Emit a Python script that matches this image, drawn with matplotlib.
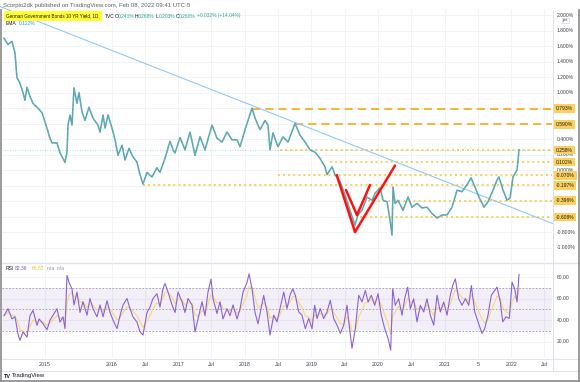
import matplotlib
matplotlib.use("Agg")
import matplotlib.pyplot as plt
import numpy as np
import pandas as pd
from matplotlib.lines import Line2D
from matplotlib.transforms import blended_transform_factory

plt.rcParams['font.family'] = ['Liberation Sans', 'DejaVu Sans']

# ---------------- data (decimal years, yield in %) ----------------
price_t = [2014.385, 2014.445, 2014.505, 2014.550, 2014.580, 2014.625, 2014.670, 2014.700, 2014.730,
           2014.775, 2014.821, 2014.881, 2014.956, 2015.001, 2015.076, 2015.106, 2015.181, 2015.226,
           2015.301, 2015.331, 2015.346, 2015.376, 2015.406, 2015.436, 2015.481, 2015.511, 2015.556,
           2015.601, 2015.661, 2015.721, 2015.796, 2015.827, 2015.872, 2015.902, 2015.947, 2016.007,
           2016.052, 2016.097, 2016.157, 2016.202, 2016.262, 2016.322, 2016.382, 2016.427, 2016.472,
           2016.532, 2016.607, 2016.682, 2016.727, 2016.802, 2016.878, 2016.923, 2016.953, 2017.028,
           2017.103, 2017.178, 2017.253, 2017.328, 2017.403, 2017.508, 2017.583, 2017.658, 2017.733,
           2017.808, 2017.884, 2017.929, 2018.004, 2018.049, 2018.109, 2018.154, 2018.229, 2018.304,
           2018.349, 2018.379, 2018.424, 2018.499, 2018.574, 2018.649, 2018.754, 2018.830, 2018.905,
           2018.980, 2019.055, 2019.130, 2019.205, 2019.235, 2019.310, 2019.355, 2019.430, 2019.505,
           2019.580, 2019.655, 2019.700, 2019.760, 2019.835, 2019.911, 2019.956, 2020.031, 2020.076,
           2020.136, 2020.181, 2020.211, 2020.226, 2020.256, 2020.301, 2020.376, 2020.451, 2020.511,
           2020.586, 2020.661, 2020.736, 2020.811, 2020.887, 2020.962, 2021.037, 2021.112, 2021.187,
           2021.262, 2021.337, 2021.397, 2021.457, 2021.517, 2021.592, 2021.652, 2021.727, 2021.787,
           2021.817, 2021.878, 2021.938, 2021.983, 2022.028, 2022.088, 2022.118]
price_v = [1.70, 1.62, 1.66, 1.51, 1.19, 1.12, 1.00, 0.90, 1.07,
           0.95, 0.86, 0.81, 0.74, 0.62, 0.41, 0.35, 0.35, 0.22,
           0.10, 0.23, 0.58, 0.71, 0.58, 1.06, 0.86, 1.00, 0.75,
           0.64, 0.81, 0.67, 0.58, 0.49, 0.71, 0.54, 0.71, 0.54,
           0.39, 0.19, 0.32, 0.13, 0.28, 0.17, 0.10, -0.06, -0.18,
           -0.03, -0.09, 0.03, -0.03, 0.15, 0.37, 0.26, 0.22, 0.42,
           0.26, 0.49, 0.19, 0.43, 0.26, 0.58, 0.41, 0.36, 0.49,
           0.39, 0.39, 0.30, 0.52, 0.64, 0.80, 0.67, 0.52, 0.64,
           0.58, 0.26, 0.48, 0.30, 0.43, 0.36, 0.60, 0.45, 0.36,
           0.26, 0.23, 0.15, 0.04, -0.06, 0.04, -0.06, -0.15, -0.32,
           -0.52, -0.71, -0.58, -0.52, -0.35, -0.39, -0.30, -0.23, -0.39,
           -0.41, -0.65, -0.84, -0.22, -0.43, -0.39, -0.52, -0.35, -0.48,
           -0.43, -0.49, -0.48, -0.56, -0.62, -0.58, -0.58, -0.48, -0.26,
           -0.28, -0.19, -0.10, -0.22, -0.35, -0.48, -0.41, -0.26, -0.13,
           -0.09, -0.26, -0.39, -0.36, -0.09, 0.00, 0.26]

rsi_t = [2014.385, 2014.445, 2014.505, 2014.550, 2014.595, 2014.625, 2014.670, 2014.730, 2014.775,
         2014.821, 2014.881, 2014.911, 2014.971, 2015.031, 2015.076, 2015.121, 2015.181, 2015.226,
         2015.271, 2015.301, 2015.331, 2015.361, 2015.406, 2015.436, 2015.481, 2015.526, 2015.571,
         2015.631, 2015.676, 2015.721, 2015.781, 2015.827, 2015.872, 2015.932, 2015.977, 2016.022,
         2016.082, 2016.127, 2016.172, 2016.232, 2016.277, 2016.322, 2016.382, 2016.427, 2016.472,
         2016.532, 2016.577, 2016.622, 2016.682, 2016.727, 2016.772, 2016.802, 2016.848, 2016.908,
         2016.953, 2016.998, 2017.058, 2017.103, 2017.148, 2017.208, 2017.253, 2017.298, 2017.358,
         2017.403, 2017.448, 2017.493, 2017.523, 2017.583, 2017.628, 2017.673, 2017.733, 2017.778,
         2017.824, 2017.884, 2017.929, 2017.974, 2018.034, 2018.064, 2018.109, 2018.154, 2018.199,
         2018.284, 2018.334, 2018.379, 2018.435, 2018.484, 2018.529, 2018.585, 2018.634, 2018.679,
         2018.720, 2018.759, 2018.810, 2018.859, 2018.909, 2018.960, 2019.010, 2019.050, 2019.085,
         2019.134, 2019.185, 2019.235, 2019.284, 2019.335, 2019.385, 2019.435, 2019.486, 2019.535,
         2019.570, 2019.610, 2019.660, 2019.711, 2019.760, 2019.810, 2019.851, 2019.900, 2019.951,
         2020.001, 2020.050, 2020.101, 2020.151, 2020.191, 2020.221, 2020.260, 2020.311, 2020.361,
         2020.401, 2020.446, 2020.486, 2020.536, 2020.586, 2020.636, 2020.687, 2020.736, 2020.786,
         2020.837, 2020.887, 2020.936, 2020.987, 2021.037, 2021.086, 2021.122, 2021.161, 2021.212,
         2021.262, 2021.312, 2021.363, 2021.402, 2021.453, 2021.502, 2021.562, 2021.603, 2021.652,
         2021.702, 2021.753, 2021.787, 2021.837, 2021.873, 2021.923, 2021.972, 2022.013, 2022.053,
         2022.088, 2022.118]
rsi_v = [44, 50.5, 41, 43, 27, 21, 29, 24, 44,
         49, 35, 41, 36.5, 31, 40, 44.5, 50.5, 38,
         43, 32, 81.5, 75, 69, 54, 66, 47, 57,
         44.5, 60, 50.5, 43, 54, 43, 58, 47, 40,
         32, 44, 54, 60, 50.5, 43, 38, 29, 26,
         47, 52, 60, 64.5, 52, 69, 74, 66, 54,
         47, 66, 57, 47, 60, 54, 29, 41, 57,
         44, 66, 78, 60, 46, 57, 41, 50.5, 44,
         54, 41, 50.5, 66, 75, 83, 69, 47, 36.5,
         62.9, 47.5, 26, 44.5, 38.3, 50.6, 66, 50.6, 63,
         69, 63, 47.5, 44.5, 32, 41.4, 32, 53.7, 41.4,
         50.6, 41.4, 47.5, 58.3, 41.4, 35.2, 27.5, 35.2, 53.7,
         33.7, 13.7, 32, 63, 56.8, 67.5, 56.8, 63, 53.7,
         64.5, 44.5, 32, 23, 12, 69, 53.7, 59.8, 44.5,
         59.8, 70.6, 50.6, 59.8, 38.3, 53.7, 47.5, 59.8, 44.5,
         35.2, 63, 47.5, 56.8, 44.5, 63, 72, 78.3, 59.8,
         53.7, 59.8, 53.7, 72, 47.5, 38.3, 27.5, 32, 44.5,
         63, 67.5, 70.6, 56.8, 38.3, 43, 41.4, 75.2, 69,
         56.8, 82.36]

# horizontal levels (value, start date, style)
level_vals = [0.793, 0.590, 0.258, 0.102, -0.070, -0.197, -0.396, -0.608]
level_start = [2018.109, 2018.754, 2018.529, 2019.280, 2018.499, 2016.472, 2019.851, 2019.730]
level_dashed = [True, True, False, False, False, False, False, False]

# descending trend line (two anchors)
trend_t = [2014.325, 2022.628]
trend_v = [2.110, -0.693]

# red V drawing segments: (t0, v0, t1, v1)
red_segs = [(2019.381, -0.065, 2019.655, -0.800),
            (2019.520, -0.258, 2019.685, -0.581),
            (2019.685, -0.581, 2019.880, -0.194),
            (2019.655, -0.800, 2020.256, 0.058)]

tick_pos = [2015, 2016, 2016.5, 2017, 2017.5, 2018, 2018.5, 2019, 2019.5, 2020, 2020.5, 2021, 2021.5, 2022, 2022.5]
tick_lab = ['2015', '2016', 'Jul', '2017', 'Jul', '2018', 'Jul', '2019', 'Jul', '2020', 'Jul', '2021', '5', '2022', 'Jul']
price_axis_ticks = [2.0, 1.8, 1.6, 1.4, 1.2, 1.0, 0.4, 0.2, 0.0, -0.8, -1.0]
rsi_axis_ticks = [80, 60, 40, 20]
last_rsi, last_rsi_ma = 82.36, 66.52

# ---------------- layout helpers ----------------
W, H = 580, 382
def fx(x): return x / W
def fy(y): return 1 - y / H

fig = plt.figure(figsize=(5.8, 3.82), dpi=100)
fig.patch.set_facecolor('white')

XL = (2014.355, 2022.613)
L, R = 2, 552
ax = fig.add_axes([fx(L), fy(262), fx(R) - fx(L), fy(10) - fy(262)])
ax.set_xlim(*XL); ax.set_ylim(-1.187, 2.065)
rx = fig.add_axes([fx(L), fy(358), fx(R) - fx(L), fy(264) - fy(358)])
rx.set_xlim(*XL); rx.set_ylim(4.65, 92.1)

GRID = '#f0f1f4'
for a in (ax, rx):
    a.set_facecolor('white')
    for s in a.spines.values():
        s.set_visible(False)
    a.set_xticks([]); a.set_yticks([])
    for tp in tick_pos:
        a.axvline(tp, color=GRID, lw=0.6, zorder=0)
for yv in np.arange(-1.0, 2.01, 0.2):
    ax.axhline(yv, color=GRID, lw=0.6, zorder=0)
for yv in rsi_axis_ticks:
    rx.axhline(yv, color=GRID, lw=0.6, zorder=0)

# ---------------- main pane ----------------
# candle-like colouring: teal bars with interleaved red (down) bars
ax.plot(price_t, price_v, color='#4ab3c0', lw=1.15, zorder=3)
ax.plot(price_t, price_v, color='#ee6b73', lw=0.9, ls=(0, (0.9, 3.6)), zorder=3.5, alpha=0.85)

# current price line (teal dotted, full width)
ax.axhline(price_v[-1], color='#26a69a', lw=0.6, ls=(0, (1, 2)), alpha=0.5, zorder=1)

ORANGE = '#f6b531'
DOT = '#fac94f'
for lv, ls0, dsh in zip(level_vals, level_start, level_dashed):
    if dsh:
        ax.plot([ls0, XL[1]], [lv, lv], color=ORANGE, lw=1.4, ls=(0, (4.2, 2.6)), zorder=2,
                solid_capstyle='butt', dash_capstyle='butt')
    else:
        ax.plot([ls0, XL[1]], [lv, lv], color=DOT, lw=1.3, ls=(0, (1.1, 1.7)), zorder=2)

ax.plot(trend_t, trend_v, color='#90caf9', lw=0.8, zorder=2, clip_on=False)

for (t0, v0, t1, v1) in red_segs:
    ax.plot([t0, t1], [v0, v1], color='#ff1111', lw=1.8, zorder=4, solid_capstyle='round')

# ---------------- RSI pane ----------------
rx.axhspan(30, 70, color='#7e57c2', alpha=0.09, lw=0, zorder=0)
for lvl in (70, 50, 30):
    rx.axhline(lvl, color='#9a9aa6', lw=0.6, ls=(0, (2, 2)), zorder=1)
rs = pd.Series(rsi_v, index=rsi_t)
rsi_ma = rs.ewm(span=4, adjust=False).mean()
rx.plot(rsi_t, rsi_ma.values, color='#f7d774', lw=0.8, zorder=2)
rx.plot(rsi_t, rsi_v, color='#8a63d2', lw=0.8, zorder=3)

# ---------------- right price scale ----------------
TXT = '#3c3f48'
FS = 3.6
trP = blended_transform_factory(fig.transFigure, ax.transData)
trR = blended_transform_factory(fig.transFigure, rx.transData)
for tv in price_axis_ticks:
    ax.text(fx(557), tv, f"{tv:.3f}%", transform=trP, fontsize=FS, color=TXT,
            va='center', ha='left', clip_on=False)
ax.text(fx(563), 1.93, "pct", transform=trP, fontsize=3.0, color=TXT, va='center', ha='left',
        bbox=dict(boxstyle='square,pad=0.2', fc='white', ec='#c8c8d0', lw=0.4))
for lv in level_vals:
    ax.text(fx(556), lv, f"{lv:.3f}%", transform=trP, fontsize=FS, color='#1e1e1e',
            va='center', ha='left', clip_on=False, zorder=10,
            bbox=dict(boxstyle='square,pad=0.35', fc='#fcd05e', ec='none'))
for tv in rsi_axis_ticks:
    rx.text(fx(557), tv, f"{tv:.2f}", transform=trR, fontsize=FS, color=TXT,
            va='center', ha='left', clip_on=False)

# ---------------- time axis ----------------
trT = blended_transform_factory(rx.transData, fig.transFigure)
for tp, tl in zip(tick_pos, tick_lab):
    rx.text(tp, fy(364.5), tl, transform=trT, fontsize=3.8, color=TXT, ha='center', va='center',
            clip_on=False)

# ---------------- separators / frame ----------------
def hline(y, x0, x1, c, lw):
    fig.add_artist(Line2D([fx(x0), fx(x1)], [fy(y), fy(y)], color=c, lw=lw, transform=fig.transFigure))
def vline(x, y0, y1, c, lw):
    fig.add_artist(Line2D([fx(x), fx(x)], [fy(y0), fy(y1)], color=c, lw=lw, transform=fig.transFigure))

hline(263, 0, 580, '#e0e3eb', 1.0)
hline(358.5, 0, 580, '#e0e3eb', 0.8)
hline(370.5, 0, 580, '#e0e3eb', 0.8)
vline(R + 0.5, 10, 371, '#e0e3eb', 0.8)
vline(0.8, 10, 382, '#8a8a8a', 1.2)
hline(381.3, 0, 580, '#8a8a8a', 1.2)
vline(579.3, 10, 382, '#8a8a8a', 1.2)

# ---------------- header / legends ----------------
fig.text(fx(3), fy(5), "Scorpio2dk published on TradingView.com, Feb 08, 2022 09:41 UTC-5",
         fontsize=4.3, color='#5d606b', va='center', ha='left')
fig.text(fx(6), fy(16), "German Government Bonds 10 YR Yield, 1D,", fontsize=3.35, color='#131722',
         va='center', ha='left', bbox=dict(boxstyle='square,pad=0.45', fc='#ffff33', ec='none'))
fig.text(fx(105), fy(16), "TVC", fontsize=3.5, color='#131722', va='center', ha='left')
ohlc = [("O", "0.241%", 115), ("H", "0.268%", 135), ("L", "0.203%", 156), ("C", "0.260%", 176)]
for k, val, xp in ohlc:
    fig.text(fx(xp), fy(16), k, fontsize=3.5, color='#131722', va='center', ha='left')
    fig.text(fx(xp + 3.2), fy(16), val, fontsize=3.5, color='#26a69a', va='center', ha='left')
fig.text(fx(197), fy(16), "+0.032% (+14.04%)", fontsize=3.5, color='#26a69a', va='center', ha='left')
fig.text(fx(6), fy(23.5), "EMA", fontsize=3.6, color='#131722', va='center', ha='left')
fig.text(fx(19), fy(23.5), "0.112%", fontsize=3.6, color='#2196f3', va='center', ha='left')

fig.text(fx(6), fy(268.5), "RSI", fontsize=3.6, color='#131722', va='center', ha='left')
fig.text(fx(15), fy(268.5), f"{last_rsi:.2f}", fontsize=3.6, color='#7e57c2', va='center', ha='left')
fig.text(fx(32), fy(268.5), f"{last_rsi_ma:.2f}", fontsize=3.6, color='#e6c229', va='center', ha='left')
fig.text(fx(47), fy(268.5), "n/a  n/a", fontsize=3.6, color='#8a8d99', va='center', ha='left')

fig.text(fx(4), fy(376), "TV", fontsize=4.0, color='#131722', va='center', ha='left', fontweight='bold')
fig.text(fx(12), fy(376), "TradingView", fontsize=4.3, color='#131722', va='center', ha='left')

fig.savefig('out.png', dpi=100, facecolor='white')
